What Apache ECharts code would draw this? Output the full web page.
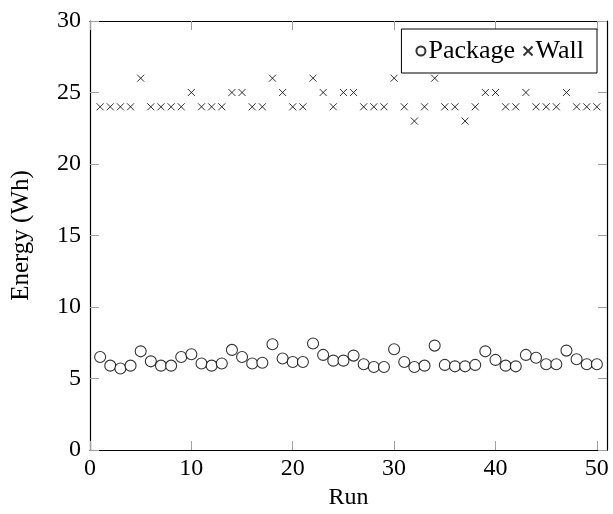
<!DOCTYPE html>
<html>
<head>
<meta charset="utf-8">
<script src="https://cdn.jsdelivr.net/npm/echarts@6/dist/echarts.min.js"></script>
<style>
  html, body { margin: 0; padding: 0; background: #fff; }
  #chart { width: 613px; height: 514px; }
</style>
</head>
<body>
<div id="chart"></div>
<script>
// run numbers
var runs = [1,2,3,4,5,6,7,8,9,10,11,12,13,14,15,16,17,18,19,20,21,22,23,24,25,
            26,27,28,29,30,31,32,33,34,35,36,37,38,39,40,41,42,43,44,45,46,47,48,49,50];
// package energy (Wh)
var packageWh = [6.5,5.9,5.7,5.9,6.9,6.2,5.9,5.9,6.5,6.7,6.05,5.9,6.05,7.0,6.5,6.05,6.1,7.4,6.4,6.15,
                 6.15,7.45,6.65,6.25,6.25,6.6,6.0,5.8,5.8,7.05,6.15,5.8,5.9,7.3,5.95,5.85,5.85,5.95,6.9,6.3,
                 5.9,5.85,6.65,6.45,6.0,6.0,6.95,6.35,6.0,6.0];
// wall energy (Wh)
var wallWh = [24,24,24,24,26,24,24,24,24,25,24,24,24,25,25,24,24,26,25,24,
              24,26,25,24,25,25,24,24,24,26,24,23,24,26,24,24,23,24,25,25,
              24,24,25,24,24,24,25,24,24,24];
var xTicks = [0,10,20,30,40,50];
var yTicks = [0,5,10,15,20,25,30];

var font = 'Liberation Serif';
var crossPath = 'path://M0,0L10,10M10,0L0,10';

function pairs(xs, ys) {
  return xs.map(function (x, i) { return [x, ys[i]]; });
}

var chart = echarts.init(document.getElementById('chart'));

var frameLine = { show: true, onZero: false, lineStyle: { color: '#000', width: 1.2 } };
var innerTick = { show: true, inside: true, length: 9, lineStyle: { color: '#a0a0a0', width: 1 } };

chart.setOption({
  animation: false,
  backgroundColor: '#fff',
  grid: { left: 90, right: 6, top: 21, bottom: 64, outerBoundsMode: 'none' },
  legend: {
    right: 16, top: 29,
    orient: 'horizontal',
    backgroundColor: '#fff',
    borderColor: '#000', borderWidth: 1,
    padding: [9, 13, 9, 14],
    itemGap: 6,
    itemWidth: 9, itemHeight: 9,
    textStyle: { fontFamily: font, fontSize: 26, color: '#000', padding: [0, 0, 0, -2] },
    data: ['Package', 'Wall']
  },
  xAxis: [{
    type: 'value', min: 0, max: 51,
    name: 'Run', nameLocation: 'middle', nameGap: 34,
    nameTextStyle: { fontFamily: font, fontSize: 24, color: '#000' },
    axisLine: frameLine,
    axisTick: Object.assign({ customValues: xTicks }, innerTick),
    axisLabel: { customValues: xTicks, fontFamily: font, fontSize: 24, color: '#000', margin: 7 },
    splitLine: { show: false }
  }, {
    type: 'value', min: 0, max: 51, position: 'top',
    axisLine: frameLine,
    axisTick: Object.assign({ customValues: xTicks }, innerTick),
    axisLabel: { show: false },
    splitLine: { show: false }
  }],
  yAxis: [{
    type: 'value', min: 0, max: 30, interval: 5,
    name: 'Energy (Wh)', nameLocation: 'middle', nameGap: 56,
    nameTextStyle: { fontFamily: font, fontSize: 25, color: '#000' },
    axisLine: frameLine,
    axisTick: Object.assign({ customValues: yTicks }, innerTick),
    axisLabel: { customValues: yTicks, fontFamily: font, fontSize: 24, color: '#000', margin: 9 },
    splitLine: { show: false }
  }, {
    type: 'value', min: 0, max: 30, interval: 5, position: 'right',
    axisLine: frameLine,
    axisTick: Object.assign({ customValues: yTicks }, innerTick),
    axisLabel: { show: false },
    splitLine: { show: false }
  }],
  series: [{
    name: 'Package',
    type: 'scatter',
    symbol: 'circle',
    symbolSize: 11,
    itemStyle: { color: '#fff', borderColor: '#000', borderWidth: 1.1 },
    data: pairs(runs, packageWh)
  }, {
    name: 'Wall',
    type: 'scatter',
    symbol: crossPath,
    symbolSize: 7,
    itemStyle: { color: 'none', borderColor: '#000', borderWidth: 1 },
    data: pairs(runs, wallWh)
  }]
});
</script>
</body>
</html>
